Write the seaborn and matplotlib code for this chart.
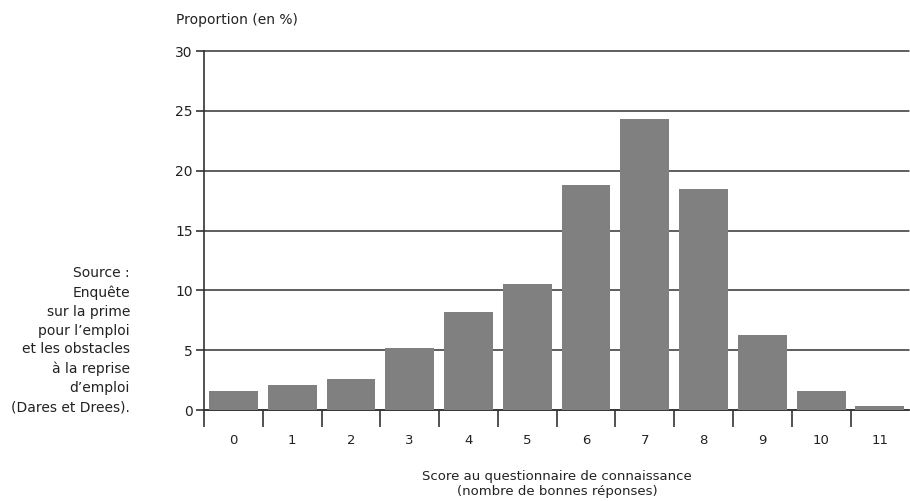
import pandas as pd
import seaborn as sns
import matplotlib.pyplot as plt
import numpy as np

# Score au questionnaire de connaissance
scores = ["0", "1", "2", "3", "4", "5", "6", "7", "8", "9", "10", "11"]
proportions = [1.6, 2.1, 2.6, 5.2, 8.2, 10.5, 18.8, 24.3, 18.5, 6.3, 1.6, 0.3]

df = pd.DataFrame({"Score": scores, "Proportion": proportions})

sns.set_style("white")
plt.rcParams["font.family"] = ["DejaVu Sans"]

fig = plt.figure(figsize=(9.1, 5.01), dpi=100)
ax = fig.add_axes([0.2242, 0.1816, 0.775, 0.7166])

sns.barplot(x="Score", y="Proportion", data=df, order=scores,
            color="#808081", saturation=1, width=0.83, ax=ax,
            edgecolor="none", linewidth=0, zorder=3)

ax.set_xlim(-0.5, 11.5)
ax.set_ylim(0, 30)
ax.set_yticks([0, 5, 10, 15, 20, 25, 30])
ax.yaxis.grid(True, color="#333333", linewidth=1.1, zorder=0)
ax.set_axisbelow(True)
for gl in ax.get_ygridlines():
    gl.set_clip_on(False)

# ticks at category boundaries, labels at centres
ax.set_xticks(range(len(scores)))
ax.set_xticklabels(scores)
ax.set_xticks(np.arange(-0.5, 11.5, 1.0), minor=True)
ax.tick_params(axis="x", which="major", bottom=True, length=0, pad=17,
               labelsize=9.5, labelcolor="#222222")
ax.tick_params(axis="x", which="minor", bottom=True, length=12, width=1.2,
               color="#333333", direction="out")
ax.tick_params(axis="y", left=True, length=6, width=1.2, color="#333333",
               labelsize=10, labelcolor="#222222", pad=2)

for side in ["top", "right"]:
    ax.spines[side].set_visible(False)
ax.spines["left"].set_color("#333333")
ax.spines["left"].set_linewidth(1.2)
ax.spines["bottom"].set_color("#333333")
ax.spines["bottom"].set_linewidth(1.2)

ax.set_xlabel("")
ax.set_ylabel("")

fig.text(176 / 910, 1 - 20 / 501, "Proportion (en %)", ha="left", va="center",
         fontsize=10, color="#222222")
fig.text(557 / 910, 1 - 484 / 501,
         "Score au questionnaire de connaissance\n(nombre de bonnes réponses)",
         ha="center", va="center", fontsize=9.5, color="#222222", linespacing=1.15)
fig.text(130 / 910, 1 - 340 / 501,
         "Source :\nEnquête\nsur la prime\npour l’emploi\net les obstacles\nà la reprise\nd’emploi\n(Dares et Drees).",
         ha="right", va="center", fontsize=10, color="#222222", linespacing=1.45)

fig.savefig("out.png", dpi=100)
